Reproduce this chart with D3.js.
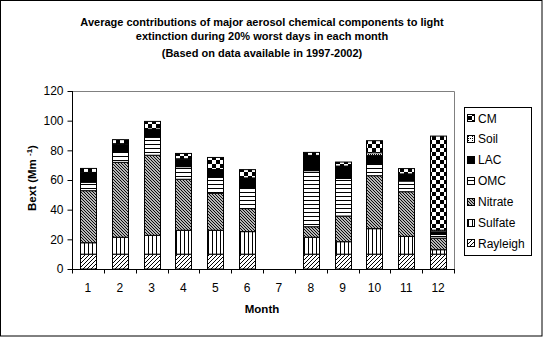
<!DOCTYPE html>
<html><head><meta charset="utf-8">
<script src="https://cdn.jsdelivr.net/npm/d3@7"></script>
<style>body{margin:0;background:#fff}svg{display:block}text{font-family:"Liberation Sans",Arial,sans-serif}</style>
</head><body><svg id="c" width="545" height="338"></svg>
<script>
const months = ["1","2","3","4","5","6","7","8","9","10","11","12"];
const seriesNames = ["Rayleigh","Sulfate","Nitrate","OMC","LAC","Soil","CM"];
const rayleigh = [10,10,10,10,10,10,0,10,10,10,10,10];
const sulfate  = [7.7,11.4,12.7,16.1,16.1,15.2,0,11.4,8.4,17.2,12,3.0];
const nitrate  = [35.1,50.5,54,34.4,24.9,15.5,0,7.1,17.3,35.7,30.1,7.8];
const omc      = [5.7,7.4,12.1,8.5,10.8,13.7,0,37.8,25.4,8.3,7.2,2.5];
const lac      = [6.3,4.9,5.1,5,5,6.7,0,10,7.8,5.4,4.5,1.8];
const soil     = [0.3,0.3,0.4,0.3,0.3,0.3,0,0.3,0.5,1.8,0.3,1.1];
const cm       = [2.7,2.7,5.2,3.6,8.1,5.6,0,2,2.7,8.1,3.6,63.4];
const yTicks = [0,20,40,60,80,100,120];
const titleLines = ["Average contributions of major aerosol chemical components to light","extinction during 20% worst days in each month","(Based on data available in 1997-2002)"];

const seriesValues = [rayleigh,sulfate,nitrate,omc,lac,soil,cm];
const rows = months.map((m,i)=>{const o={month:m};seriesNames.forEach((s,j)=>o[s]=seriesValues[j][i]);return o;});
const stacked = d3.stack().keys(seriesNames)(rows);

const svg = d3.select("#c");
const defs = svg.append("defs");
function pat(id,w,h,fn){const p=defs.append("pattern").attr("id",id).attr("patternUnits","userSpaceOnUse").attr("width",w).attr("height",h);p.append("rect").attr("width",w).attr("height",h).attr("fill","#fff");fn(p);}
pat("p-ray",4,4,p=>p.append("path").attr("d","M-1,1L1,-1M0,4L4,0M3,5L5,3").attr("stroke","#000").attr("stroke-width",1));
pat("p-sul",4,4,p=>p.append("rect").attr("x",0).attr("y",0).attr("width",1).attr("height",4).attr("fill","#000"));
pat("p-nit",3,3,p=>p.append("path").attr("d","M-1,2L1,4M0,0L3,3M2,-1L4,1").attr("stroke","#000").attr("stroke-width",1.1));
pat("p-omc",4,4,p=>p.append("rect").attr("x",0).attr("y",0).attr("width",4).attr("height",1).attr("fill","#000"));
pat("p-lac",4,4,p=>p.select("rect").attr("fill","#000"));
pat("p-soil",4,4,p=>{p.append("rect").attr("x",0).attr("y",0).attr("width",1).attr("height",1).attr("fill","#000");p.append("rect").attr("x",2).attr("y",2).attr("width",1).attr("height",1).attr("fill","#000");p.append("rect").attr("x",0).attr("y",2).attr("width",1).attr("height",1).attr("fill","#000");});
pat("p-cm",8,8,p=>{p.append("rect").attr("x",0).attr("y",0).attr("width",4).attr("height",4).attr("fill","#000");p.append("rect").attr("x",4).attr("y",4).attr("width",4).attr("height",4).attr("fill","#000");});
const fills = {Rayleigh:"url(#p-ray)",Sulfate:"url(#p-sul)",Nitrate:"url(#p-nit)",OMC:"url(#p-omc)",LAC:"url(#p-lac)",Soil:"url(#p-soil)",CM:"url(#p-cm)"};

// outer frame
svg.append("rect").attr("x",0.5).attr("y",0.5).attr("width",541.5).attr("height",335.5).attr("fill","none").attr("stroke","#000").attr("stroke-width",1);

const L=72,R=454,T=91,B=269;
const x = d3.scaleBand().domain(months).range([L,R]).paddingInner(0.5).paddingOuter(0.25);
const y = d3.scaleLinear().domain([0,120]).range([B,T]);

// plot area border (gray top/right)
svg.append("path").attr("d",`M${L},${T+0.5}H${R+0.5}V${B}`).attr("fill","none").attr("stroke","#808080");

// bars
const g = svg.append("g");
stacked.forEach(layer=>{
  g.append("g").selectAll("rect").data(layer.filter(d=>d[1]-d[0]>0)).join("rect")
   .attr("x",d=>Math.round(x(d.data.month))+0.5)
   .attr("width",Math.round(x.bandwidth()))
   .attr("y",d=>y(d[1]))
   .attr("height",d=>y(d[0])-y(d[1]))
   .attr("fill",fills[layer.key]).attr("stroke","#000").attr("stroke-width",1);
});

// y axis
const ya = svg.append("g").attr("transform",`translate(${L+0.5},0)`).call(d3.axisLeft(y).tickValues(yTicks).tickSize(5).tickPadding(4));
ya.select(".domain").attr("stroke","#000").attr("d",`M0,${T}V${B}`);
ya.selectAll("text").attr("font-size",12).attr("font-family","Liberation Sans, Arial");
// x axis
const xa = svg.append("g").attr("transform",`translate(0,${B+0.5})`).call(d3.axisBottom(x).tickSize(0).tickPadding(14));
xa.select(".domain").attr("stroke","#000").attr("d",`M${L},0H${R+1}`);
xa.selectAll("text").attr("font-size",12).attr("font-family","Liberation Sans, Arial");
xa.selectAll(".tk").data(d3.range(months.length+1)).join("line").attr("class","tk")
  .attr("x1",i=>Math.round(L+i*(R-L)/months.length)+0.5).attr("x2",i=>Math.round(L+i*(R-L)/months.length)+0.5)
  .attr("y1",0).attr("y2",4).attr("stroke","#000");

// titles
svg.append("g").selectAll("text").data(titleLines).join("text")
  .attr("x",262).attr("y",(d,i)=>[26,40,57][i]).attr("text-anchor","middle")
  .attr("font-size",11).attr("font-weight","bold").text(d=>d);
svg.append("text").attr("x",262).attr("y",313).attr("text-anchor","middle").attr("font-size",11.5).attr("font-weight","bold").text("Month");
const yt = svg.append("text").attr("transform","translate(36,178) rotate(-90)").attr("text-anchor","middle").attr("font-size",11.5).attr("font-weight","bold");
yt.append("tspan").text("Bext (Mm ");
yt.append("tspan").attr("baseline-shift","super").attr("font-size",8).text(" -1");
yt.append("tspan").text(")");

// legend
const lg = svg.append("g");
lg.append("rect").attr("x",464.5).attr("y",107.5).attr("width",67).attr("height",148).attr("fill","#fff").attr("stroke","#000");
const legOrder = seriesNames.slice().reverse();
legOrder.forEach((s,i)=>{
  const cy = 118 + i*20.9;
  lg.append("rect").attr("x",467.5).attr("y",Math.round(cy-4)+0.5).attr("width",7).attr("height",7).attr("fill",fills[s]).attr("stroke","#000");
  lg.append("text").attr("x",478).attr("y",cy+4.5).attr("font-size",12).text(s);
});
</script></body></html>
